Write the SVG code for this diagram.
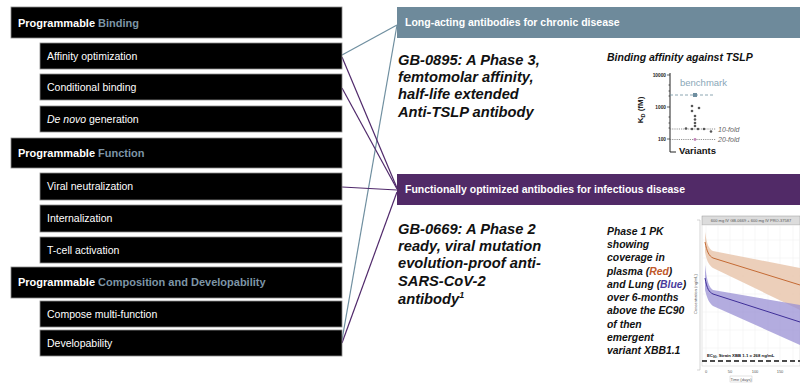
<svg xmlns="http://www.w3.org/2000/svg" width="800" height="383" viewBox="0 0 800 383">
<style>
text{font-family:"Liberation Sans",Arial,sans-serif}
.box{fill:#000;stroke:#8a8a8a;stroke-width:0.8}
.ht{fill:#fff;font-size:11px;font-weight:bold}
.acc{fill:#7d95a6}
.st{fill:#fff;font-size:10.5px}
.gb{font-size:14.7px;font-weight:bold;font-style:italic;fill:#111}
.pk{font-size:10.4px;font-weight:bold;font-style:italic;fill:#111}
.tl{stroke:#6f8fa0;stroke-width:1.2;fill:none}
.pl{stroke:#50296b;stroke-width:1.2;fill:none}
.dot{fill:#555}
.tiny{font-size:4px;fill:#555}
.grid{stroke:#ececec;stroke-width:0.5}
</style>

<g id="connectors">
<path class="tl" d="M342,55 L397,25"/>
<path class="tl" d="M342,340 L397,25"/>
<path class="pl" d="M342,57 L397,188"/>
<path class="pl" d="M342,88 L397,189"/>
<path class="pl" d="M342,187 L397,190"/>
<path class="pl" d="M342,343 L397,192"/>
</g>

<g id="hdr-binding"><rect class="box" x="11" y="7" width="331" height="31"/><text class="ht" x="18" y="26.5">Programmable <tspan class="acc">Binding</tspan></text></g>
<g id="affinity"><rect class="box" x="40" y="43" width="302" height="26"/><text class="st" x="47" y="59.5">Affinity optimization</text></g>
<g id="conditional"><rect class="box" x="40" y="74" width="302" height="26"/><text class="st" x="47" y="90.5">Conditional binding</text></g>
<g id="denovo"><rect class="box" x="40" y="106" width="302" height="26"/><text class="st" x="47" y="122.5"><tspan font-style="italic">De novo</tspan> generation</text></g>
<g id="hdr-function"><rect class="box" x="11" y="138" width="331" height="30"/><text class="ht" x="18" y="156.5">Programmable <tspan class="acc">Function</tspan></text></g>
<g id="viral"><rect class="box" x="40" y="173" width="302" height="27"/><text class="st" x="47" y="190">Viral neutralization</text></g>
<g id="internalization"><rect class="box" x="40" y="205" width="302" height="27"/><text class="st" x="47" y="222">Internalization</text></g>
<g id="tcell"><rect class="box" x="40" y="237" width="302" height="26"/><text class="st" x="47" y="253.5">T-cell activation</text></g>
<g id="hdr-composition"><rect class="box" x="11" y="267" width="331" height="31"/><text class="ht" x="18" y="286">Programmable <tspan class="acc">Composition and Developability</tspan></text></g>
<g id="compose"><rect class="box" x="40" y="301" width="302" height="26"/><text class="st" x="47" y="317.5">Compose multi-function</text></g>
<g id="developability"><rect class="box" x="40" y="330" width="302" height="26"/><text class="st" x="47" y="346.5">Developability</text></g>

<g id="hdr-chronic"><rect x="397" y="7" width="403" height="31" fill="#6e8a9b"/><text x="405" y="26" fill="#fff" font-size="10.5px" font-weight="bold">Long-acting antibodies for chronic disease</text></g>
<g id="hdr-infectious"><rect x="397" y="174" width="403" height="31" fill="#512a67"/><text x="405" y="193" fill="#fff" font-size="10.5px" font-weight="bold">Functionally optimized antibodies for infectious disease</text></g>

<g id="gb0895">
<text class="gb" x="398" y="65">GB-0895: A Phase 3,</text>
<text class="gb" x="398" y="82">femtomolar affinity,</text>
<text class="gb" x="398" y="99">half-life extended</text>
<text class="gb" x="398" y="116.5">Anti-TSLP antibody</text>
</g>

<g id="gb0669">
<text class="gb" x="398" y="233.5">GB-0669: A Phase 2</text>
<text class="gb" x="398" y="251">ready, viral mutation</text>
<text class="gb" x="398" y="268">evolution-proof anti-</text>
<text class="gb" x="398" y="286">SARS-CoV-2</text>
<text class="gb" x="398" y="303.5">antibody<tspan font-size="9px" dy="-6">1</tspan></text>
</g>

<g id="tslp-chart">
<text x="607" y="61" font-size="10.5px" font-weight="bold" font-style="italic" fill="#111">Binding affinity against TSLP</text>
<path d="M670,73 V152 H676" stroke="#222" stroke-width="1" fill="none"/>
<path d="M667,75 H670 M667,107 H670 M667,139 H670 M668.5,85 H670 M668.5,91 H670 M668.5,96 H670 M668.5,117 H670 M668.5,123 H670 M668.5,128 H670" stroke="#222" stroke-width="0.7"/>
<text x="666" y="76.5" font-size="4.8px" font-weight="bold" text-anchor="end" fill="#222">10000</text>
<text x="666" y="108.5" font-size="4.8px" font-weight="bold" text-anchor="end" fill="#222">1000</text>
<text x="666" y="140.5" font-size="4.8px" font-weight="bold" text-anchor="end" fill="#222">100</text>
<text transform="translate(643,110) rotate(-90)" font-size="8px" font-weight="bold" text-anchor="middle" fill="#222">K<tspan font-size="5.5px" dy="2">D</tspan><tspan dy="-2"> (fM)</tspan></text>
<text x="680" y="86" font-size="9.5px" fill="#8aa7b8">benchmark</text>
<path d="M670,95 H714" stroke="#6f8fa0" stroke-width="0.8" stroke-dasharray="3,2"/>
<rect x="693" y="93" width="4" height="4" fill="#6f8fa0"/>
<path d="M670,129 H716" stroke="#666" stroke-width="0.7" stroke-dasharray="1.2,1"/>
<path d="M670,139.5 H716" stroke="#666" stroke-width="0.7" stroke-dasharray="1.2,1"/>
<text x="718" y="131.5" font-size="7px" font-style="italic" fill="#666">10-fold</text>
<text x="718" y="142" font-size="7px" font-style="italic" fill="#666">20-fold</text>
<circle class="dot" cx="692" cy="106" r="1.3"/>
<circle class="dot" cx="692" cy="111" r="1.3"/>
<circle class="dot" cx="699" cy="108" r="1.3"/>
<circle class="dot" cx="695" cy="116" r="1.3"/>
<circle class="dot" cx="695" cy="119.5" r="1.3"/>
<circle class="dot" cx="695" cy="123" r="1.3"/>
<circle class="dot" cx="695" cy="126" r="1.3"/>
<circle class="dot" cx="686" cy="128.5" r="1.3"/>
<circle class="dot" cx="692" cy="129" r="1.3"/>
<circle class="dot" cx="698" cy="129" r="1.3"/>
<circle class="dot" cx="704" cy="129" r="1.3"/>
<circle class="dot" cx="711" cy="131.5" r="1.3"/>
<circle cx="695" cy="139.5" r="1.4" fill="#c384b8"/>
<text x="679" y="154" font-size="9.5px" font-weight="bold" fill="#111">Variants</text>
</g>

<g id="pk-text">
<text class="pk" x="607" y="234.5">Phase 1 PK</text>
<text class="pk" x="607" y="247.5">showing</text>
<text class="pk" x="607" y="261">coverage in</text>
<text class="pk" x="607" y="274.5">plasma (<tspan fill="#c0592b">Red</tspan>)</text>
<text class="pk" x="607" y="287.5">and Lung (<tspan fill="#4a3c9c">Blue</tspan>)</text>
<text class="pk" x="607" y="301">over 6-months</text>
<text class="pk" x="607" y="314">above the EC90</text>
<text class="pk" x="607" y="327.5">of then</text>
<text class="pk" x="607" y="340.5">emergent</text>
<text class="pk" x="607" y="354">variant XBB1.1</text>
</g>

<g id="pk-chart">
<path d="M697,220 H700 V370 H697" stroke="#bbb" stroke-width="0.6" fill="none"/>
<text transform="translate(697,294) rotate(-90)" class="tiny" text-anchor="middle">Concentration (ng/mL)</text>
<rect x="702" y="216" width="98" height="9" fill="#dcdcdc" stroke="#999" stroke-width="0.5"/>
<text x="751" y="222" class="tiny" font-size="3.6px" text-anchor="middle" fill="#444">600 mg IV GB-0669 + 600 mg IV PRO-37587</text>
<rect x="702" y="225" width="98" height="141" fill="#fff" stroke="#ccc" stroke-width="0.5"/>
<path class="grid" d="M706,225 V366 M718,225 V366 M730,225 V366 M743,225 V366 M755,225 V366 M768,225 V366 M780,225 V366 M793,225 V366 M702,240 H800 M702,258 H800 M702,276 H800 M702,294 H800 M702,312 H800 M702,330 H800 M702,348 H800"/>
<path d="M705,232 C707,245 709,249 713,251 L800,268 L800,310 L713,268 C709,265 707,262 705,252 Z" fill="#e9c7ae" fill-opacity="0.85"/>
<path d="M705,265 C707,282 709,287 713,290 L800,305 L800,345 L713,306 C709,303 707,298 705,290 Z" fill="#9a90d4" fill-opacity="0.75"/>
<path d="M705,242 C707,252 709,256 713,258 L800,285" stroke="#c46a34" stroke-width="1" fill="none"/>
<path d="M705,278 C707,289 709,292 713,294 L800,322" stroke="#3f2f98" stroke-width="1" fill="none"/>
<text x="707" y="357" font-size="4.3px" font-weight="bold" fill="#111">EC<tspan font-size="3px" dy="1">90</tspan><tspan dy="-1">, Strain XBB 1.1 = 268 ng/mL</tspan></text>
<path d="M702,361 H800" stroke="#111" stroke-width="1.6" stroke-dasharray="5,3"/>
<text x="706" y="373" class="tiny" text-anchor="middle">0</text>
<text x="730" y="373" class="tiny" text-anchor="middle">50</text>
<text x="755" y="373" class="tiny" text-anchor="middle">100</text>
<text x="780" y="373" class="tiny" text-anchor="middle">150</text>
<rect x="730" y="376" width="22" height="6" fill="#fff" stroke="#bbb" stroke-width="0.4"/>
<text x="741" y="380.5" class="tiny" font-size="3.8px" text-anchor="middle">Time (days)</text>
</g>
</svg>
